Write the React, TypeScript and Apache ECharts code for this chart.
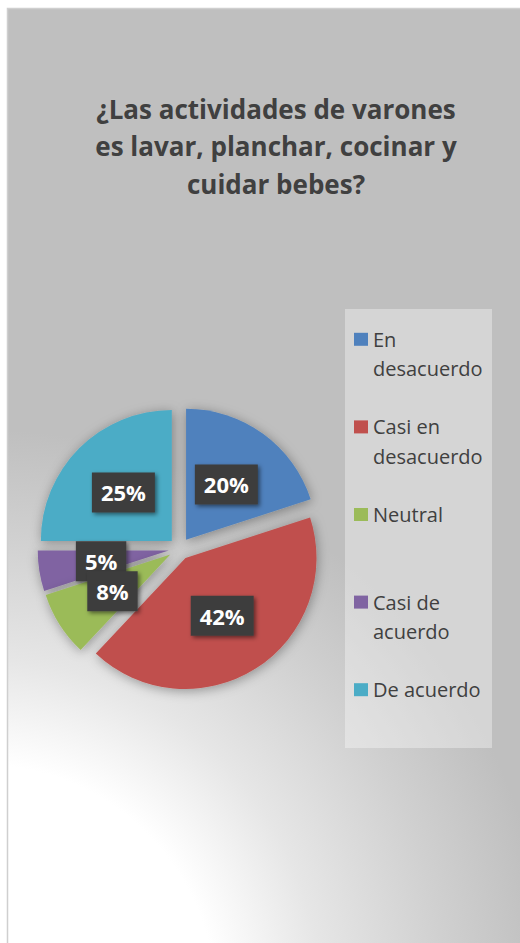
import React, { useEffect, useRef } from "react";
import * as echarts from "echarts";

const titleText = "¿Las actividades de varones\nes lavar, planchar, cocinar y\ncuidar bebes?";
const categories = ["En desacuerdo", "Casi en desacuerdo", "Neutral", "Casi de acuerdo", "De acuerdo"];
const values = [20, 42, 8, 5, 25];
const colors = ["#4f81bd", "#c0504d", "#9bbb59", "#8064a2", "#4bacc6"];
// legend labels wrapped as in the reference (leading/trailing blank lines keep rows aligned)
const legendLabels = ["\nEn\ndesacuerdo", "\nCasi en\ndesacuerdo", "\nNeutral\n", "\nCasi de\nacuerdo", "\nDe acuerdo\n"];

export default function App() {
  const ref = useRef<HTMLDivElement>(null);
  useEffect(() => {
    if (!ref.current) return;
    const chart = echarts.init(ref.current, null, { renderer: "svg" });
    const bg = new echarts.graphic.RadialGradient(-20, 1000, 620, [
      { offset: 0, color: "#ffffff" },
      { offset: 0.38, color: "#ffffff" },
      { offset: 0.55, color: "#e6e6e6" },
      { offset: 0.75, color: "#d0d0d0" },
      { offset: 0.92, color: "#bfbfbf" },
      { offset: 1, color: "#bfbfbf" },
    ], true);
    const labelMap: Record<string, string> = {};
    categories.forEach((c, i) => (labelMap[c] = legendLabels[i]));
    // Same slices, drawn counter-clockwise in reverse order so the "8%" label sits above "5%"
    const pieData = categories
      .map((name, i) => ({
        name,
        value: values[i],
        selected: true,
        itemStyle: { color: colors[i] },
      }))
      .reverse();
    chart.setOption({
      animation: false,
      backgroundColor: "#ffffff",
      graphic: [
        {
          type: "rect",
          z: 0,
          shape: { x: 7.5, y: 8.5, width: 560, height: 980 },
          style: { fill: bg, stroke: "#cfcfcf", lineWidth: 1.5 },
        },
        {
          type: "rect",
          z: 1,
          shape: { x: 345, y: 309, width: 147, height: 439 },
          style: { fill: "rgba(255,255,255,0.35)" },
        },
      ],
      title: {
        text: titleText,
        left: 276,
        top: 90,
        padding: 0,
        textAlign: "center",
        textStyle: {
          fontFamily: "Open Sans",
          fontWeight: "bold",
          fontSize: 26,
          lineHeight: 37.5,
          color: "#404040",
        },
      },
      legend: {
        orient: "vertical",
        left: 354,
        top: 295.5,
        padding: 0,
        itemGap: 0,
        itemWidth: 14,
        itemHeight: 13,
        icon: "rect",
        data: categories,
        formatter: (name: string) => labelMap[name] || name,
        textStyle: {
          fontFamily: "Open Sans",
          fontSize: 20,
          color: "#404040",
          lineHeight: 29.2,
        },
      },
      series: [
        {
          type: "pie",
          center: [179.6, 548.7],
          radius: 131,
          startAngle: 90,
          clockwise: false,
          selectedMode: "multiple",
          selectedOffset: 11,
          avoidLabelOverlap: false,
          itemStyle: {
            shadowBlur: 12,
            shadowColor: "rgba(0,0,0,0.35)",
            shadowOffsetX: 1,
            shadowOffsetY: 2,
          },
          label: {
            show: true,
            position: "inside",
            formatter: "{d}%",
            fontFamily: "Open Sans",
            fontWeight: "bold",
            fontSize: 22,
            lineHeight: 24,
            color: "#ffffff",
            backgroundColor: "#3d3d3d",
            padding: [8, 9, 8, 9],
            shadowBlur: 4,
            shadowColor: "rgba(0,0,0,0.5)",
            shadowOffsetX: 2,
            shadowOffsetY: 2,
          },
          labelLayout: { hideOverlap: false },
          labelLine: { show: false },
          emphasis: { disabled: true },
          data: pieData,
        },
      ],
    });
    return () => chart.dispose();
  }, []);
  return (
    <div
      ref={ref}
      style={{ position: "fixed", left: 0, top: 0, width: 520, height: 943 }}
    />
  );
}
